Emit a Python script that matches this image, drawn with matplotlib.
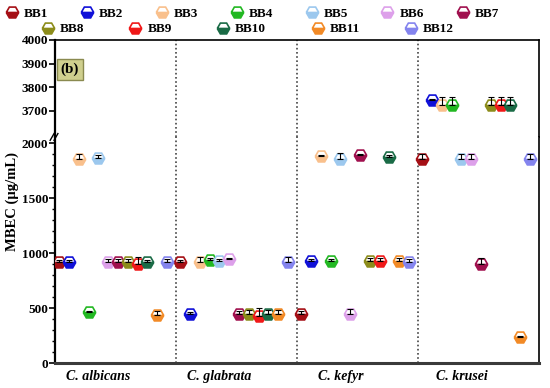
import numpy as np
import matplotlib
matplotlib.use("Agg")
import matplotlib.pyplot as plt
from matplotlib.lines import Line2D

plt.rcParams['font.family'] = ['Liberation Serif', 'DejaVu Serif']
plt.rcParams['font.weight'] = 'bold'

species = ['C. albicans', 'C. glabrata', 'C. kefyr', 'C. krusei']
series = ['BB1', 'BB2', 'BB3', 'BB4', 'BB5', 'BB6', 'BB7', 'BB8', 'BB9', 'BB10', 'BB11', 'BB12']
colors = ['#a50f15', '#1010d8', '#f9c08c', '#22b822', '#9cc8ee', '#dda0ea',
          '#a0104e', '#8c8c1a', '#f01818', '#1a6b46', '#f28a26', '#8484ee']

# MBEC values (ug/mL), one list per species, in BB1..BB12 order
albicans = [918, 918, 1855, 464, 1864, 918, 918, 918, 900, 918, 436, 918]
glabrata = [918, 445, 918, 936, 930, 945, 445, 445, 427, 445, 445, 918]
kefyr = [445, 927, 1882, 927, 1855, 445, 1890, 927, 927, 1873, 927, 918]
krusei = [1855, 3746, 3725, 3725, 1855, 1855, 900, 3725, 3725, 3725, 236, 1855]

# upper error (SD)
albicans_err = [20, 20, 45, 10, 30, 25, 25, 25, 65, 20, 40, 30]
glabrata_err = [20, 20, 45, 20, 15, 10, 30, 36, 73, 36, 36, 45]
kefyr_err = [30, 15, 10, 15, 55, 45, 10, 30, 30, 15, 30, 30]
krusei_err = [45, 5, 34, 34, 45, 45, 55, 34, 34, 34, 10, 45]

values = np.array([albicans, glabrata, kefyr, krusei])
errors = np.array([albicans_err, glabrata_err, kefyr_err, krusei_err])

fig = plt.figure(figsize=(5.5, 3.88), dpi=100)
ax_top = fig.add_axes([0.1, 0.647, 0.88, 0.25])
ax_bot = fig.add_axes([0.1, 0.0644, 0.88, 0.5826])

step = 0.081
for ax in (ax_top, ax_bot):
    for i, (name, c) in enumerate(zip(series, colors)):
        x = np.arange(4) + (i - 5.5) * step - 0.02
        y = values[:, i]
        ax.plot(x, y, linestyle='none', marker='H', markersize=9, color=c,
                markeredgecolor=c, markeredgewidth=1.2, fillstyle='bottom',
                markerfacecoloralt='white', zorder=3)
        ax.errorbar(x, y, yerr=[np.zeros(4), errors[:, i]], fmt='none',
                    ecolor='black', elinewidth=0.8, capsize=2.5, capthick=0.8, zorder=4)
    for sep in (0.5, 1.5, 2.5):
        ax.axvline(sep, color='#444444', linestyle=(0, (1, 1.5)), linewidth=1.2, zorder=1)
    ax.set_xlim(-0.5, 3.5)
    ax.tick_params(axis='y', labelsize=9.5, width=1.2, length=4, pad=1)

ax_top.set_ylim(3590, 4000)
ax_top.set_yticks([3700, 3800, 3900, 4000])
ax_top.spines['bottom'].set_visible(False)
ax_top.set_xticks([])
ax_top.spines['left'].set_linewidth(1.6)
ax_top.spines['top'].set_linewidth(1.2)
ax_top.spines['right'].set_linewidth(1.2)

ax_bot.set_ylim(0, 2055)
ax_bot.set_yticks([0, 500, 1000, 1500, 2000])
ax_bot.set_yticks(np.arange(0, 2001, 100), minor=True)
ax_bot.tick_params(axis='y', which='minor', length=2, width=1)
ax_bot.spines['top'].set_visible(False)
ax_bot.spines['left'].set_linewidth(1.6)
ax_bot.spines['right'].set_linewidth(1.2)
ax_bot.spines['bottom'].set_linewidth(2.2)
ax_bot.spines['bottom'].set_color('#3a3a3a')
ax_bot.set_xticks(np.arange(4) - 0.14)
ax_bot.set_xticklabels(species, fontsize=10, fontstyle='italic', fontweight='bold')
ax_bot.tick_params(axis='x', length=0, pad=5)

# axis break marks
for dx in (-0.006, 0.002):
    ax_bot.plot([dx - 0.004, dx + 0.004], [0.985, 1.015], transform=ax_bot.transAxes,
                color='black', linewidth=1, clip_on=False, zorder=5)

fig.text(0.022, 0.48, 'MBEC (\u00b5g/mL)', rotation=90, fontsize=10.5,
         fontweight='bold', ha='center', va='center')

ax_top.text(0.012, 0.7, '(b)', transform=ax_top.transAxes, fontsize=11,
            fontweight='bold', ha='left', va='center',
            bbox=dict(boxstyle='square,pad=0.25', facecolor='#cfcf8e', edgecolor='#8a8a50', linewidth=1))

handles = [Line2D([], [], linestyle='none', marker='H', markersize=9, color=c,
                  markeredgecolor=c, markeredgewidth=1.2, fillstyle='bottom',
                  markerfacecoloralt='white') for c in colors]
fig.legend(handles[:7], series[:7], loc='center', bbox_to_anchor=(0.458, 0.964),
           ncol=7, frameon=False, fontsize=9.5, handlelength=1, handletextpad=0.4,
           columnspacing=2.45, borderaxespad=0)
fig.legend(handles[7:], series[7:], loc='center', bbox_to_anchor=(0.45, 0.925),
           ncol=5, frameon=False, fontsize=9.5, handlelength=1, handletextpad=0.4,
           columnspacing=3.4, borderaxespad=0)

fig.savefig('out.png', dpi=100)
